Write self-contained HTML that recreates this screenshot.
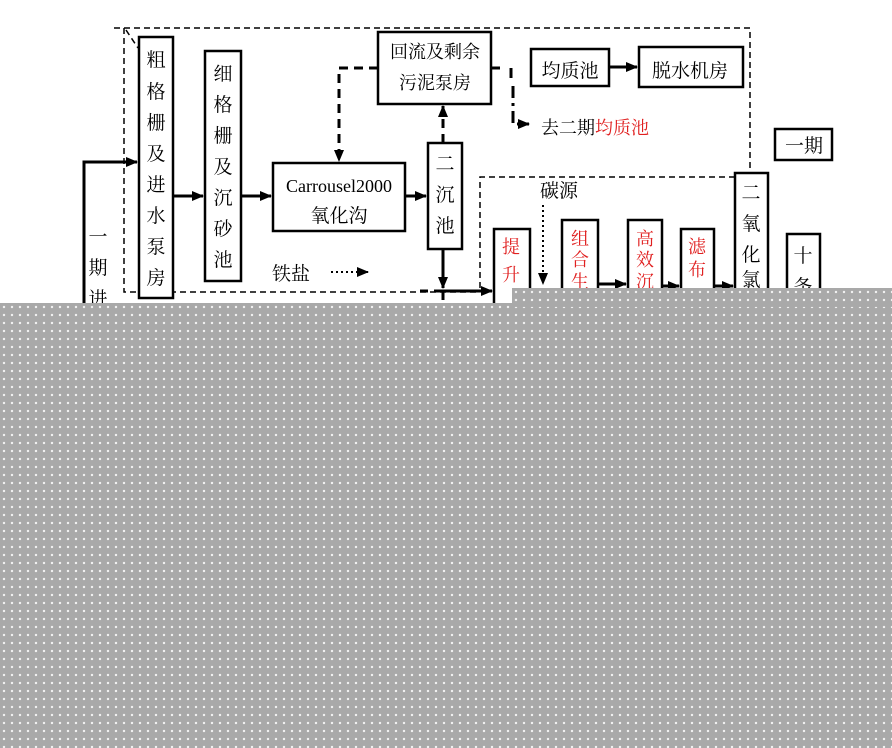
<!DOCTYPE html>
<html><head><meta charset="utf-8"><style>
html,body{margin:0;padding:0;background:#fff;}
svg{display:block;font-family:"Liberation Serif","Noto Serif CJK SC","Noto Sans CJK SC",serif;}
.ov{position:absolute;background-color:#a9a9a9;background-image:radial-gradient(circle,#f2f2f2 1px,transparent 1.4px);background-size:8px 8px;}
</style></head><body>
<div style="position:relative;width:892px;height:748px;overflow:hidden">
<svg width="892" height="748" viewBox="0 0 892 748">
<defs>
<marker id="a" markerWidth="8" markerHeight="8" refX="7" refY="4" orient="auto" markerUnits="userSpaceOnUse"><path d="M0,0 L8,4 L0,8z" fill="#000"/></marker>
<marker id="b" markerWidth="12" markerHeight="10" refX="11" refY="5" orient="auto" markerUnits="userSpaceOnUse"><path d="M0,0 L12,5 L0,10z" fill="#000"/></marker>
</defs>
<g fill="none" stroke="#000" stroke-width="1.5" stroke-dasharray="6,4">
<path d="M114,28 H750 V177"/>
<path d="M124,28 V292 H480"/>
<path d="M480,288 V177 H750"/>
<path d="M126,30 L138,48"/>
</g>
<g fill="#fff" stroke="#000" stroke-width="2.5">
<rect x="139" y="37" width="34" height="261"/>
<rect x="205" y="51" width="36" height="230"/>
<rect x="273" y="163" width="132" height="68"/>
<rect x="428" y="143" width="34" height="106"/>
<rect x="378" y="32" width="113" height="72"/>
<rect x="531" y="49" width="78" height="37"/>
<rect x="639" y="47" width="104" height="40"/>
<rect x="775" y="129" width="57" height="31"/>
<rect x="494" y="229" width="36" height="80"/>
<rect x="562" y="220" width="36" height="80"/>
<rect x="628" y="220" width="34" height="80"/>
<rect x="681" y="229" width="33" height="80"/>
<rect x="735" y="173" width="33" height="130"/>
<rect x="787" y="234" width="33" height="80"/>
</g>
<g stroke="#000" stroke-width="3" fill="none">
<path d="M84,310 V162 H137" marker-end="url(#b)"/>
<path d="M173,196 H203" marker-end="url(#b)"/>
<path d="M241,196 H271" marker-end="url(#b)"/>
<path d="M405,196 H426" marker-end="url(#b)"/>
<path d="M443,249 V288" marker-end="url(#b)"/>
<path d="M443,300 V292" />
<path d="M443,291 H492" marker-end="url(#b)"/>
<path d="M598,284 H626" marker-end="url(#b)"/>
<path d="M662,286 H679" marker-end="url(#b)"/>
<path d="M714,286 H733" marker-end="url(#b)"/>
<path d="M609,67 H637" marker-end="url(#b)"/>
</g>
<g stroke="#000" stroke-width="3" fill="none" stroke-dasharray="9,6">
<path d="M378,68 H339 V161" marker-end="url(#b)"/>
<path d="M443,143 V106" marker-end="url(#b)"/>
<path d="M443,291 H420"/>
</g>
<path d="M491,68 H500 M511,68 V78 M513,86 V120 L513,124 H529" stroke="#000" stroke-width="3" stroke-dasharray="12,5,3,5" fill="none" marker-end="url(#b)"/>
<path d="M331,272 H368" stroke="#000" stroke-width="2" stroke-dasharray="2,3" fill="none" marker-end="url(#b)"/>
<path d="M543,205 V284" stroke="#000" stroke-width="2" stroke-dasharray="2,3" fill="none" marker-end="url(#b)"/>
<g font-size="19" fill="#000" text-anchor="middle">
<text x="156" y="66">粗</text><text x="156" y="98">格</text><text x="156" y="129">栅</text><text x="156" y="160">及</text><text x="156" y="191">进</text><text x="156" y="222">水</text><text x="156" y="253">泵</text><text x="156" y="284">房</text>
<text x="223" y="80">细</text><text x="223" y="111">格</text><text x="223" y="142">栅</text><text x="223" y="173">及</text><text x="223" y="204">沉</text><text x="223" y="235">砂</text><text x="223" y="266">池</text>
<text x="339" y="192" font-size="18">Carrousel2000</text><text x="339" y="222">氧化沟</text>
<text x="445" y="170">二</text><text x="445" y="201">沉</text><text x="445" y="232">池</text>
<text x="435" y="58" font-size="18">回流及剩余</text><text x="435" y="89" font-size="18">污泥泵房</text>
<text x="570" y="77">均质池</text><text x="690" y="77">脱水机房</text>
<text x="804" y="152">一期</text>
<text x="98" y="243">一</text><text x="98" y="274">期</text><text x="98" y="305">进</text>
<text x="291" y="280">铁盐</text>
<text x="559" y="197">碳源</text>
<text x="751" y="199">二</text><text x="751" y="230">氧</text><text x="751" y="261">化</text><text x="751" y="286">氯</text>
<text x="803" y="262">十</text><text x="803" y="293">条</text>
</g>
<g font-size="18" fill="#e02020" text-anchor="middle">
<text x="511" y="253">提</text><text x="511" y="281">升</text>
<text x="580" y="245">组</text><text x="580" y="266">合</text><text x="580" y="288">生</text>
<text x="645" y="245">高</text><text x="645" y="266">效</text><text x="645" y="288">沉</text>
<text x="697" y="253">滤</text><text x="697" y="276">布</text>
</g>
<text x="541" y="134" font-size="18" fill="#000">去二期<tspan fill="#e02020">均质池</tspan></text>
</svg>
<div class="ov" style="left:0;top:303px;width:892px;height:445px"></div>
<div class="ov" style="left:512px;top:288px;width:380px;height:20px"></div>
</div>
</body></html>
